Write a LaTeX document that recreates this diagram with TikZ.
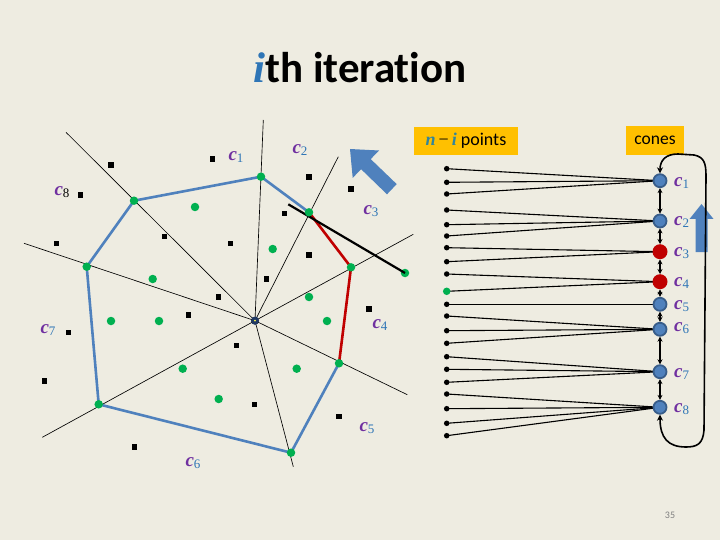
\documentclass[tikz,border=0pt]{standalone}
\usepackage{fontspec}
\setmainfont{Carlito}[Ligatures=NoCommon]
\newfontfamily\serifm{Liberation Serif}
\usetikzlibrary{arrows.meta}
\pgfdeclarelayer{background}
\pgfsetlayers{background,main}
\definecolor{bg}{HTML}{EEECE1}
\definecolor{hullblue}{HTML}{4F81BD}
\definecolor{darkred}{HTML}{C00000}
\definecolor{ptgreen}{HTML}{00B050}
\definecolor{lblpurple}{HTML}{7030A0}
\definecolor{lblblue}{HTML}{2E75B6}
\definecolor{boxorange}{HTML}{FFC000}
\definecolor{mathteal}{HTML}{31859C}
\definecolor{nodeborder}{HTML}{385D8A}
\definecolor{navy}{HTML}{1F3864}
\newcommand{\conelab}[2][lblblue]{{\serifm\bfseries\itshape\fontsize{19}{19}\selectfont\color{lblpurple}c}{\serifm\fontsize{13}{13}\selectfont\color{#1}\raisebox{-0.45ex}{#2}}}
\begin{document}
\begin{tikzpicture}[x=1pt,y=-1pt,
  ray/.style={black,line width=0.65pt},
  hull/.style={hullblue,line width=2.6pt,line join=round},
  redhull/.style={darkred,line width=2.6pt,line join=round},
  sq/.style={rectangle,fill=black,minimum size=5.5pt,inner sep=0pt},
  gdot/.style={circle,fill=ptgreen,minimum size=8.5pt,inner sep=0pt},
  pt/.style={circle,fill=black,minimum size=5.5pt,inner sep=0pt},
  cone/.style={circle,fill=hullblue,draw=nodeborder,line width=1.8pt,minimum size=13pt,inner sep=0pt},
  redcone/.style={circle,fill=darkred,minimum size=15pt,inner sep=0pt},
  obox/.style={fill=boxorange,inner sep=0pt},
  conn/.style={black,line width=1.1pt},
  dbl/.style={black,line width=1.4pt,{Stealth[length=5pt,width=5pt]}-{Stealth[length=5pt,width=5pt]}},
  cyc/.style={black,line width=1.6pt,{Stealth[length=6pt,width=6pt]}-{Stealth[length=6pt,width=6pt]}},
  lbl/.style={inner sep=0pt,anchor=west}
]
\begin{pgfonlayer}{background}
\fill[bg] (0,0) rectangle (720,540);
\end{pgfonlayer}
\useasboundingbox (0,0) rectangle (720,540);

% title
\node (title) at (360,68) {\fontsize{43}{43}\selectfont\bfseries{\serifm\itshape\color{lblblue}i}th iteration};
\node (pg) at (670,515) {\fontsize{10}{10}\selectfont\color{gray}35};

% ---------- left diagram ----------
\node[circle,fill=navy,minimum size=8pt,inner sep=0pt] (O) at (255,320.7) {};

\coordinate (r1) at (263.3,120);
\coordinate (r2) at (338.3,156.7);
\coordinate (r3) at (413.3,234.3);
\coordinate (r4) at (407.3,394.7);
\coordinate (r5) at (293.3,466.7);
\coordinate (r6) at (42.3,437.3);
\coordinate (r7) at (24,243.3);
\coordinate (r8) at (66,132.3);
\foreach \i in {1,...,8} {\draw[ray] (O.center) -- (r\i);}

\coordinate (h1) at (261,176.7);
\coordinate (h2) at (309,212.3);
\coordinate (h3) at (351,267.3);
\coordinate (h4) at (339,363.3);
\coordinate (h5) at (291,452.7);
\coordinate (h6) at (98.7,404.3);
\coordinate (h7) at (86.7,266.7);
\coordinate (h8) at (134,200.7);
\draw[hull] (h2) -- (h1) -- (h8) -- (h7) -- (h6) -- (h5) -- (h4);
\draw[redhull] (h2) -- (h3) -- (h4);

\node[gdot] (q) at (405,273) {};
\coordinate (bl) at (288.3,204.3);
\draw[black,line width=2.2pt] (bl) -- (q.center);

\foreach \i in {1,...,8} {\node[gdot] (hv\i) at (h\i) {};}
\node[circle,fill=navy,minimum size=8pt,inner sep=0pt] (O2) at (255,320.7) {};
\fill[yellow!70] (O2.center) circle (1pt);

% interior green points
\foreach \x/\y [count=\k] in {195/207,272.7/249,152.7/279,309/297,111/321,159/321,327/321,182.7/368.7,296.7/368.7,218.7/399}
  {\node[gdot] (g\k) at (\x,\y) {};}

% black outside points
\foreach \x/\y [count=\k] in {111/165,212.7/159,309/177,351/189,80.7/195,284.7/213.3,56.7/243.3,164.7/236.7,230.7/243.3,309/255,266.7/279,218.7/297,188.7/315,369/309,68.7/332.7,236.7/345.3,44.7/381,254.7/404.7,339/416.7,134.7/447}
  {\node[sq] (s\k) at (\x,\y) {};}

% labels left
\node[inner sep=0pt] (lc1) at (236,157) {\conelab{1}};
\node[inner sep=0pt] (lc2) at (300,150) {\conelab{2}};
\node[inner sep=0pt] (lc3) at (371,211) {\conelab{3}};
\node[inner sep=0pt] (lc4) at (380,325) {\conelab{4}};
\node[inner sep=0pt] (lc5) at (367,428) {\conelab{5}};
\node[inner sep=0pt] (lc6) at (193,463) {\conelab{6}};
\node[inner sep=0pt] (lc7) at (48,330) {\conelab{7}};
\node[inner sep=0pt] (lc8) at (62,192) {\conelab[black]{8}};

% big blue arrow up-left
\fill[hullblue] (350,149) -- (379.1,150.5) -- (370.7,159.1) -- (396.7,184.1) -- (387.0,194.3) -- (361.1,169.2) -- (352.7,177.9) -- cycle;

% ---------- right diagram ----------
\node[obox,minimum width=104pt,minimum height=28pt] (npts) at (466,141)
  {\fontsize{18}{18}\selectfont{\serifm\bfseries\itshape\color{mathteal}n}\,{\serifm −}\,{\serifm\bfseries\itshape\color{mathteal}i} points};
\node[obox,minimum width=58pt,minimum height=29pt] (cones) at (655,140.5) {\fontsize{17.5}{17.5}\selectfont cones};

\foreach \y [count=\k] in {180.7,221,251.7,281.7,304.3,329.3,371.7,407.3}
  {\coordinate (kc\k) at (660,\y);}
\node[cone] (k1) at (kc1) {};
\node[cone] (k2) at (kc2) {};
\node[redcone] (k3) at (kc3) {};
\node[redcone] (k4) at (kc4) {};
\node[cone] (k5) at (kc5) {};
\node[cone] (k6) at (kc6) {};
\node[cone] (k7) at (kc7) {};
\node[cone] (k8) at (kc8) {};

\foreach \y [count=\k] in {168.7,182.3,194,210,224.7,236,247.7,261.7,274,291.3,304.3,316,330.7,343.3,356.7,369.3,382.3,394,408.7,423.3,435.7}
  {\node[pt] (p\k) at (446.7,\y) {};}
\node[gdot,minimum size=7.5pt] (p10g) at (446.7,291.3) {};

\begin{pgfonlayer}{background}
\foreach \p/\c in {1/1,2/1,3/1,4/2,5/2,6/2,7/3,8/3,9/4,10/4,11/5,12/6,13/6,14/6,15/7,16/7,17/7,18/8,19/8,20/8,21/8}
  {\draw[conn] (p\p.center) -- (k\c.center);}
\end{pgfonlayer}

\foreach \a/\b in {1/2,2/3,3/4,4/5,5/6,6/7,7/8}
  {\draw[dbl] (k\a) -- (k\b);}

% blue up arrow
\fill[hullblue] (701.5,204) -- (713.5,219) -- (707.5,219) -- (707.5,252) -- (695.5,252) -- (695.5,219) -- (689.5,219) -- cycle;

% cyclic path
\draw[cyc] (k1.north) .. controls (660,160) and (666,154) .. (678,154)
  -- (694,155) .. controls (704,157) and (706,163) .. (706,176)
  -- (704,430) .. controls (703,444) and (697,447) .. (686,447)
  .. controls (668,447) and (660,438) .. (k8.south);

\foreach \y [count=\k] in {183,222,253,283,306,328,374,409}
  {\node[lbl] (kl\k) at (674,\y) {\conelab{\k}};}
\end{tikzpicture}
\end{document}
